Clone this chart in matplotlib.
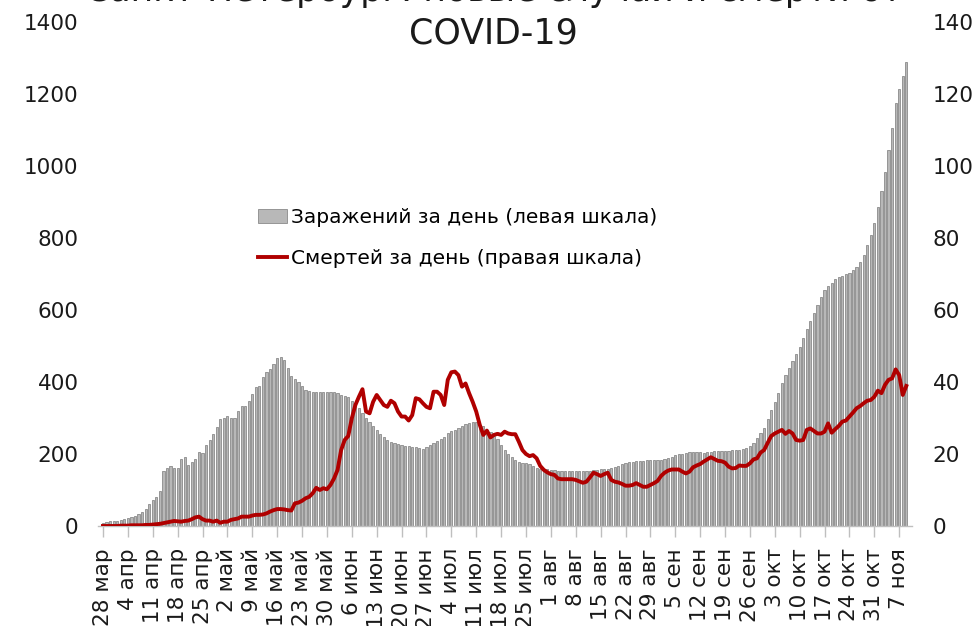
# plot.py
# Daily COVID-19 infections (bars, left scale) and deaths (line, right scale)

# import libraries
import numpy as np
import matplotlib
matplotlib.use("Agg")
import matplotlib.pyplot as plt

plt.rcParams['font.family'] = ['DejaVu Sans']

# daily new infections, 28 Mar .. 9 Nov
cases = [7, 11, 14, 14, 14, 16, 20, 23, 25, 27, 32, 40, 47, 61, 72, 81, 96,
         152, 162, 166, 162, 162, 186, 192, 169, 178, 185, 205, 202, 225, 239, 255, 275, 296,
         301, 305, 299, 301, 319, 334, 334, 348, 367, 387,
         389, 415, 427, 435, 449, 466, 470, 461, 440, 417, 407, 401, 389, 378, 375, 373, 373,
         372, 372, 371, 371, 371, 370, 364, 361, 357, 347, 334, 327, 313, 301, 290, 279, 267,
         255, 246, 239, 234, 230, 227, 224, 222, 221, 220, 220, 217,
         215, 220, 225, 230, 236, 242, 248, 257, 264, 268, 273, 278, 282, 285, 288, 288, 281,
         278, 268, 262, 250, 243, 225, 211, 199, 191, 183, 178, 176, 174, 171, 167, 162, 157,
         157, 157, 156, 155, 154, 154, 153, 154, 154, 153, 153,
         153, 154, 154, 156, 156, 157, 157, 158, 160, 164, 168, 172, 175, 177, 178, 180, 180,
         181, 182, 182, 183, 184, 184, 185, 188, 192, 196, 199, 201, 204, 206, 206, 206, 205,
         204, 205, 206, 207, 207, 207, 207, 208, 210, 212, 212,
         213, 216, 222, 231, 244, 257, 271, 296, 322, 345, 370, 398, 419, 438, 458, 477, 498,
         521, 546, 570, 591, 614, 635, 656, 667, 674, 685, 693, 695, 699, 704, 711, 720, 732,
         753, 781, 808, 841, 885, 931, 984, 1044, 1105, 1174, 1213, 1250, 1290]

# daily deaths, same days
deaths = [0, 0, 0, 0, 0, 0.1, 0.1, 0.1, 0.2, 0.2, 0.2,
          0.2, 0.3, 0.3, 0.4, 0.5, 0.6, 0.8, 1.0, 1.2, 1.4, 1.3,
          1.2, 1.4, 1.5, 1.9, 2.4, 2.6, 1.9, 1.5, 1.5, 1.2, 1.5, 0.9, 1.2, 1.2, 1.7, 1.9, 2.1,
          2.6, 2.6, 2.6, 2.9, 3.1,
          3.1, 3.2, 3.5, 4.0, 4.4, 4.7, 4.7, 4.6, 4.4, 4.3, 6.3, 6.5, 7.0, 7.7, 8.1, 9.1, 10.6,
          10.0, 10.5, 10.2, 11.4, 13.2, 15.6, 21.1, 23.9, 25.0, 29.9, 33.6, 35.9, 38.0, 31.8,
          31.3, 34.5, 36.4, 35.0, 33.6, 33.1, 34.8, 34.1, 31.8, 30.4, 30.4, 29.3, 30.8, 35.5, 35.2,
          34.1, 33.1, 32.7, 37.3, 37.3, 36.4, 33.6, 40.6, 42.7, 42.9, 41.9, 38.7, 39.6, 36.9,
          34.5, 31.8, 28.1, 25.3, 26.5, 24.6, 25.3, 25.6, 25.3, 26.2, 25.7, 25.5, 25.5, 23.4,
          21.1, 20.0, 19.4, 19.7, 18.8, 16.7, 15.6, 14.9, 14.4, 14.2, 13.2, 13.0, 13.0, 13.0,
          13.0, 12.8, 12.4,
          12.0, 12.3, 13.5, 14.8, 14.4, 13.9, 14.4, 14.8, 12.8, 12.3, 12.1, 11.7, 11.2, 11.2,
          11.4, 11.9, 11.4, 10.9, 10.9, 11.4, 11.9, 12.5, 13.9, 14.8, 15.4, 15.7, 15.7, 15.7,
          15.1, 14.6, 15.1, 16.3, 16.8, 17.2, 17.9, 18.5, 19.1, 18.6, 18.1, 18.0, 17.6, 16.5,
          16.0, 16.1, 16.8,
          16.7, 16.7, 17.4, 18.5, 18.8, 20.4, 21.1, 23.1, 25.0, 25.7, 26.2, 26.7, 25.6, 26.4,
          25.7, 23.9, 23.7, 23.9, 26.7, 27.1, 26.4, 25.7, 25.7, 26.2, 28.5, 25.9, 26.9, 27.8,
          29.0, 29.3, 30.4, 31.5, 32.7, 33.3, 34.1, 34.8, 35.0, 35.9, 37.6, 36.9, 39.2, 40.6,
          41.0, 43.5, 41.9, 36.4, 38.9]

# weekly tick labels (one every 7 days, starting 28 Mar)
weekLabels = ["28 мар", "4 апр", "11 апр", "18 апр", "25 апр", "2 май", "9 май", "16 май",
              "23 май", "30 май", "6 июн", "13 июн", "20 июн", "27 июн", "4 июл", "11 июл",
              "18 июл", "25 июл", "1 авг", "8 авг", "15 авг", "22 авг", "29 авг", "5 сен",
              "12 сен", "19 сен", "26 сен", "3 окт", "10 окт", "17 окт", "24 окт", "31 окт",
              "7 ноя"]

leftTicks = [0, 200, 400, 600, 800, 1000, 1200, 1400]
rightTicks = [0, 20, 40, 60, 80, 100, 120, 140]

days = np.arange(len(cases))
tickPos = np.arange(len(weekLabels)) * 7

fig = plt.figure(figsize=(9.78, 6.26), dpi=100)
ax = fig.add_axes([98 / 978, 1 - 526 / 626, 814 / 978, 504 / 626])
ax2 = ax.twinx()

# bars for infections
bars = ax.bar(days, cases, width=0.62, color="#b8b8b8", edgecolor="#7a7a7a", linewidth=0.5,
              label="Заражений за день (левая шкала)")
# line for deaths
line, = ax2.plot(days, deaths, color="#b00000", linewidth=2.8,
                 label="Смертей за день (правая шкала)")

ax.set_xlim(-1.4, 227.6)
ax.set_ylim(0, 1400)
ax2.set_ylim(0, 140)

ax.set_yticks(leftTicks)
ax.set_yticklabels([str(t) for t in leftTicks])
ax2.set_yticks(rightTicks)
ax2.set_yticklabels([str(t) for t in rightTicks])
ax.tick_params(axis="y", length=0, pad=14, labelsize=15.5, labelcolor="#1a1a1a")
ax2.tick_params(axis="y", length=0, pad=15, labelsize=15.5, labelcolor="#1a1a1a")

ax.set_xticks(tickPos)
ax.set_xticklabels(weekLabels, rotation=90, va="top", ha="center")
ax.tick_params(axis="x", length=8, width=1, color="#bfbfbf", pad=8, labelsize=15.5,
               labelcolor="#1a1a1a")

for side in ["top", "left", "right"]:
    ax.spines[side].set_visible(False)
    ax2.spines[side].set_visible(False)
ax2.spines["bottom"].set_visible(False)
ax.spines["bottom"].set_color("#bfbfbf")
ax.spines["bottom"].set_linewidth(1)

# legend without a frame
fig.legend([bars, line], [bars.get_label(), line.get_label()],
           loc="upper left", bbox_to_anchor=(258 / 978, 1 - 208 / 626),
           frameon=False, fontsize=14.5, handlelength=1.45, handleheight=0.75,
           handletextpad=0.2, labelspacing=1.1, borderpad=0, borderaxespad=0)

# title, first line is cut by the top edge of the picture
fig.text(0.505, 1 - 1 / 626, "Санкт-Петербург: новые случаи и смерти от",
         ha="center", va="baseline", fontsize=25, color="#1a1a1a")
fig.text(0.505, 1 - 33 / 626, "COVID-19", ha="center", va="center", fontsize=25,
         color="#1a1a1a")

fig.savefig("out.png", dpi=100)
